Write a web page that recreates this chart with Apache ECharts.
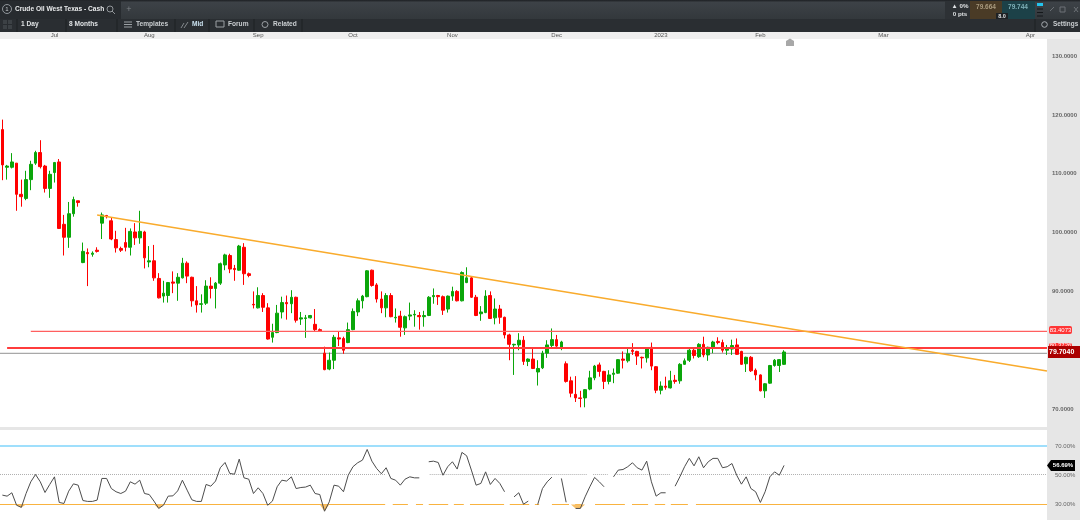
<!DOCTYPE html>
<html>
<head>
<meta charset="utf-8">
<style>html,body{margin:0;padding:0;background:#fff}#main{width:1080px;height:520px;filter:blur(0.35px)}</style>
</head>
<body>
<div id="main"></div>
<script src="https://cdn.jsdelivr.net/npm/echarts@6/dist/echarts.min.js"></script>
<script>
var slots = 221; // trading days on the time axis, candles fill the first 166
var monthNames = ['Jul','Aug','Sep','Oct','Nov','Dec','2023','Feb','Mar','Apr'];
var monthSlots = [11,31,54,74,95,117,139,160,186,217];

var opens = [117.5,111.1,111.1,111.8,106.5,105.8,109.0,111.8,113.6,111.3,
107.5,110.2,112.0,101.4,99.2,103.2,105.4,94.9,96.6,96.3,
97.0,101.6,102.9,102.0,98.8,97.3,98.3,97.5,100.1,99.1,
100.1,95.0,95.2,92.2,89.2,89.3,91.6,91.4,92.3,94.8,
92.4,88.4,87.8,88.0,90.9,90.5,91.4,94.5,96.1,93.9,
93.6,97.5,93.0,87.8,87.2,89.3,87.2,82.2,83.0,86.5,
88.1,87.9,89.0,85.3,85.4,85.5,84.4,83.5,79.5,76.8,
78.3,82.1,82.0,81.3,83.5,86.5,88.4,89.1,93.6,91.1,
88.7,87.2,89.3,85.5,85.8,83.8,85.8,86.0,85.9,85.7,
85.9,89.1,89.3,89.1,87.0,89.2,90.0,88.4,91.5,92.3,
89.0,86.2,86.4,89.3,85.5,87.0,85.6,82.6,80.9,80.9,
81.7,78.1,78.5,76.3,77.0,79.5,80.8,81.8,80.3,77.7,
74.8,72.5,71.9,71.9,73.4,75.3,77.5,76.4,74.7,75.9,
76.1,78.5,78.2,80.0,79.8,78.8,78.7,80.5,77.2,73.2,
73.9,73.6,74.9,74.8,77.6,78.3,80.0,78.9,81.0,79.2,
80.4,81.5,81.3,80.0,80.2,80.9,79.8,77.7,78.8,76.6,
75.8,73.1,74.4,77.4,77.4,77.6];
var closes = [111.5,111.3,112.0,106.5,106.1,109.0,111.6,113.6,111.2,107.5,
109.9,111.9,100.7,99.2,103.2,105.6,105.1,96.8,96.4,96.5,
96.8,103.0,102.7,98.9,97.4,97.0,97.5,100.2,99.1,100.2,
95.7,95.2,92.3,88.9,89.7,91.5,91.4,92.4,94.8,92.6,
88.4,87.7,87.9,90.9,90.5,91.4,94.7,96.2,93.8,93.7,
97.7,93.0,92.7,87.7,89.3,87.3,81.9,83.0,86.3,88.1,
87.9,89.0,85.1,85.5,85.5,85.9,83.5,83.3,76.7,78.3,
82.2,81.9,80.0,83.5,86.6,88.4,89.2,93.5,91.0,88.7,
87.2,89.3,85.7,85.6,83.9,85.7,86.0,86.1,85.7,85.9,
89.0,89.3,89.1,86.8,89.2,90.0,88.4,93.2,92.3,89.0,
85.9,86.5,89.2,85.4,87.0,85.6,82.6,81.0,81.0,81.7,
78.1,78.5,76.9,76.9,79.5,80.9,81.8,80.7,81.4,74.7,
72.7,71.9,71.8,73.3,75.3,77.3,76.4,74.7,75.8,76.1,
78.4,78.3,79.4,79.8,79.0,78.7,80.3,77.3,73.2,73.9,
73.7,74.8,74.7,77.6,78.2,80.0,79.1,81.0,79.2,80.5,
81.4,81.3,80.0,80.3,80.8,79.3,77.6,78.8,76.5,75.8,
73.1,74.3,77.4,78.3,78.4,79.7];
var lows = [108.9,109.0,110.9,103.7,104.4,105.5,107.2,111.5,110.9,106.8,
105.9,108.5,100.6,96.1,97.4,102.7,104.4,94.8,90.9,95.9,
96.6,98.9,102.4,98.7,96.6,96.7,96.8,96.1,97.9,98.1,
93.9,94.1,91.8,88.8,88.1,88.1,89.7,88.4,92.2,91.4,
87.4,86.4,86.4,87.7,88.8,87.1,91.1,93.6,93.1,91.8,
93.5,91.1,92.4,87.1,87.1,86.5,81.8,81.3,82.9,85.4,
85.2,86.3,84.7,84.3,82.1,85.4,83.2,83.1,76.6,76.6,
76.8,80.7,79.4,81.2,83.4,85.8,87.1,89.0,90.8,88.1,
86.3,85.6,85.6,84.7,82.3,82.6,85.1,84.0,83.5,84.0,
85.8,87.9,87.7,86.0,86.4,88.4,88.3,88.3,91.4,88.9,
85.8,85.0,86.3,85.3,84.4,84.5,82.0,78.3,75.8,80.0,
77.5,77.3,76.8,74.0,76.8,78.7,80.5,80.2,80.0,74.5,
72.0,71.2,70.3,70.3,73.2,74.9,75.5,73.4,74.2,74.4,
76.0,76.9,77.9,79.2,77.5,76.9,77.9,76.6,72.7,72.5,
73.3,73.5,74.3,74.3,77.5,78.0,78.6,78.7,78.8,78.2,
79.5,81.0,79.6,79.2,79.2,79.2,77.5,76.3,76.3,74.9,
73.0,71.9,74.3,77.2,76.3,77.5];
var highs = [119.2,111.5,113.5,111.8,109.0,110.5,112.2,113.9,115.7,111.5,
110.5,112.0,112.5,103.0,105.2,106.1,105.4,98.3,97.3,96.8,
97.5,103.4,103.0,102.6,100.3,97.6,100.8,100.7,101.6,103.7,
100.3,97.7,97.9,93.1,91.8,91.6,93.4,93.1,95.7,95.1,
92.5,90.9,89.5,91.9,92.4,91.6,94.9,96.4,96.4,94.5,
97.9,98.2,93.2,90.0,90.7,89.7,88.0,84.5,87.7,89.1,
89.3,90.2,89.1,86.5,86.0,86.0,87.0,83.7,80.6,79.6,
82.6,83.2,82.3,84.7,87.1,88.8,89.4,93.6,93.7,91.4,
90.0,89.7,89.7,87.1,86.7,85.9,88.1,86.8,86.5,86.7,
89.2,90.5,89.4,89.3,89.3,90.8,90.2,93.4,94.1,92.5,
89.4,87.5,90.2,90.0,88.8,87.7,85.7,82.8,81.1,82.9,
82.4,78.6,80.3,78.3,79.9,81.7,83.7,82.6,81.6,78.1,
75.5,75.6,73.1,73.4,76.5,77.5,77.9,76.5,76.6,76.9,
78.5,79.8,80.3,81.2,79.9,78.9,80.4,81.3,77.3,74.7,
75.5,76.5,75.8,77.8,78.6,80.2,80.3,81.2,82.3,80.6,
81.6,82.2,81.8,80.9,81.8,82.0,79.9,78.9,79.0,76.9,
75.9,74.4,77.5,78.5,78.5,80.0];

// rsi, null where the line breaks in the picture
var rsi = [36.4,35.7,38.0,29.5,28.0,37.5,45.5,50.5,45.5,38.2,
43.7,48.9,31.4,30.7,39.1,44.1,43.2,32.7,32.1,32.1,
33.0,47.8,47.8,40.9,38.7,37.5,39.1,45.5,43.9,46.6,
37.5,36.8,32.3,27.3,29.5,35.7,35.9,39.3,46.6,39.8,
33.2,32.1,32.1,43.7,42.5,46.0,55.1,58.7,51.2,50.7,
61.0,48.2,47.3,37.5,41.4,37.5,29.5,32.3,42.1,46.6,
46.0,48.9,40.9,41.6,41.9,43.2,37.5,36.8,25.4,31.8,
43.2,42.5,38.7,50.0,55.8,58.5,60.3,67.6,59.6,54.6,
51.0,55.1,47.8,46.6,43.2,47.3,48.9,48.2,48.2,null,
59.2,59.6,58.7,50.0,55.8,59.2,54.2,65.6,63.3,53.5,
43.2,44.4,52.3,43.7,47.8,44.4,38.7,null,35.2,38.0,
30.2,32.3,null,30.0,40.9,45.5,48.7,null,47.8,31.5,
null,27.3,27.3,35.2,42.1,48.5,45.5,42.1,null,48.9,
53.5,53.9,55.8,58.5,55.1,53.5,59.6,45.5,35.7,38.0,
38.0,null,42.5,48.9,55.8,61.5,56.4,62.6,55.1,59.2,
61.5,61.5,55.1,55.8,58.0,50.0,43.9,48.9,40.9,38.7,
31.4,38.7,48.9,52.3,50.0,56.7];

var priceTicks = [130,120,110,100,90,70];
var rsiTicks = [70,50,30];
var trendFrom = [20, 103.0];
var trendTo = [220.5, 76.45];
var resistLevel = 83.2, resistFrom = 6;
var supportLevel = 80.37, supportFrom = 1;
var lastLevel = 79.47;
// drawn stretches of the rsi guide lines, in day slots
var floorRuns = [[-0.5,80.8],[82.4,85.6],[87.3,88.8],[90.0,94.1],[95.3,97.4],[98.7,105.9],[107.1,111.2],[112.4,113.3],[116.0,119.6],[120.9,122.3],[125.1,131.4],[132.9,136.3],[137.7,139.9],[141.1,144.7],[146.4,220.5]];
var midRuns = [[-0.5,81],[90.2,123.4],[124.7,127.8],[129.7,140.9],[142.4,220.5]];

var slotNames = [];
for (var i = 0; i < slots; i++) slotNames.push(String(i));

var candles = opens.map(function (o, i) { return [o, closes[i], lows[i], highs[i]]; });

function runsToLine(runs, level) {
	var out = [];
	runs.forEach(function (r) {
		out.push([r[0], level], [r[1], level], [r[1], null]);
	});
	return out;
}

// orange wedge where the rsi drops under 30
var dips = rsi.map(function (v, i) {
	if (v !== null && v < 30) return v;
	if ((rsi[i - 1] !== null && rsi[i - 1] < 30 && i > 0) || (rsi[i + 1] !== null && rsi[i + 1] < 30)) return 30;
	return null;
});

var font = '"Liberation Sans", Arial, sans-serif';
function txt(x, y, s, color, size, weight, align) {
	return { type: 'text', x: x, y: y, z: 40, silent: true, style: { text: s, fill: color, font: (weight || 'bold') + ' ' + size + 'px ' + font, textAlign: align || 'left', textVerticalAlign: 'middle' } };
}
function box(x, y, w, h, fill, z, r) {
	return { type: 'rect', z: z || 1, silent: true, shape: { x: x, y: y, width: w, height: h, r: r || 0 }, style: { fill: fill } };
}
function vline(x, y0, y1, c) {
	return { type: 'line', z: 10, silent: true, shape: { x1: x, y1: y0, x2: x, y2: y1 }, style: { stroke: c, lineWidth: 1 } };
}
function ln(x1, y1, x2, y2, c, w) {
	return { type: 'line', z: 15, silent: true, shape: { x1: x1, y1: y1, x2: x2, y2: y2 }, style: { stroke: c, lineWidth: w || 1 } };
}

var chrome = [
	// header bars
	box(0, 0, 1080, 19, new echarts.graphic.LinearGradient(0, 0, 0, 1, [{ offset: 0, color: '#1c1f22' }, { offset: 0.12, color: '#3d4247' }, { offset: 1, color: '#33383c' }])),
	box(0, 1, 121, 18, '#272b2f', 2),
	box(0, 19, 1080, 13, '#2a2e32'),
	box(0, 32, 1080, 7, '#efefef'),
	box(1047, 39, 33, 481, '#e6e6e6'),
	box(0, 427, 1080, 3, '#e6e6e6', 30),
	// tab
	{ type: 'circle', z: 20, silent: true, shape: { cx: 7, cy: 9, r: 4.5 }, style: { fill: 'none', stroke: '#aab0b5', lineWidth: 0.8 } },
	txt(7, 9.5, '1', '#c4c8cb', 6, 'normal', 'center'),
	txt(15, 9.5, 'Crude Oil West Texas - Cash', '#e8eaeb', 6.6),
	{ type: 'circle', z: 20, silent: true, shape: { cx: 110, cy: 9, r: 3 }, style: { fill: 'none', stroke: '#a8adb1', lineWidth: 0.8 } },
	ln(112, 11, 115, 14, '#a8adb1', 0.8),
	txt(129, 9.5, '+', '#7c8186', 9, 'normal', 'center'),
	// toolbar
	box(3, 20, 9, 9, '#3c4145', 12),
	ln(7.5, 20, 7.5, 29, '#272b2f'), ln(3, 24.5, 12, 24.5, '#272b2f'),
	vline(17, 19, 32, '#1d2023'), vline(66, 19, 32, '#1d2023'), vline(117, 19, 32, '#1d2023'),
	vline(175, 19, 32, '#1d2023'), vline(209, 19, 32, '#1d2023'), vline(254, 19, 32, '#1d2023'), vline(302, 19, 32, '#1d2023'),
	txt(21, 24.5, '1 Day', '#dfe2e4', 6.6),
	txt(69, 24.5, '8 Months', '#dfe2e4', 6.6),
	ln(124, 22, 132, 22, '#9ba0a4'), ln(124, 24.5, 132, 24.5, '#9ba0a4'), ln(124, 27, 132, 27, '#9ba0a4'),
	txt(136, 24.5, 'Templates', '#c9cdd0', 6.6),
	ln(181, 28, 184, 23, '#84898d'), ln(184, 28, 188, 22, '#84898d'),
	txt(192, 24.5, 'Mid', '#c9e0ee', 6.6),
	ln(216, 21, 224, 21, '#9ba0a4'), ln(216, 27, 224, 27, '#9ba0a4'), ln(216, 21, 216, 27, '#9ba0a4'), ln(224, 21, 224, 27, '#9ba0a4'),
	txt(228, 24.5, 'Forum', '#c9cdd0', 6.6),
	{ type: 'circle', z: 20, silent: true, shape: { cx: 265, cy: 24.5, r: 3 }, style: { fill: 'none', stroke: '#9ba0a4', lineWidth: 1 } },
	txt(273, 24.5, 'Related', '#c9cdd0', 6.6),
	// quote block, top right
	box(945, 1, 25, 18, '#2d3135', 5),
	txt(960, 6, '▲ 0%', '#dfe2e4', 6.2, 'bold', 'center'),
	txt(960, 14, '0 pts', '#dfe2e4', 6.2, 'bold', 'center'),
	box(970, 1, 32, 18, '#4a3b26', 5),
	txt(986, 7.5, '79.664', '#a99a7e', 6.5, 'bold', 'center'),
	box(1002, 1, 33, 18, '#1c4148', 5),
	txt(1018, 7.5, '79.744', '#7fb0b8', 6.5, 'bold', 'center'),
	box(996, 13, 12, 6, '#1e2124', 6),
	txt(1002, 16, '8.0', '#dfe2e4', 5.5, 'bold', 'center'),
	box(1037, 3, 6, 3, '#23c4ee', 6),
	box(1037, 8.5, 6, 1, '#14171a', 6), box(1037, 12, 6, 1, '#14171a', 6), box(1037, 15.5, 6, 1, '#14171a', 6),
	ln(1050, 11, 1054, 7, '#6c7176'),
	{ type: 'rect', z: 15, silent: true, shape: { x: 1060, y: 7, width: 5, height: 5 }, style: { fill: 'none', stroke: '#6c7176' } },
	ln(1074, 7, 1078, 12, '#6c7176'), ln(1078, 7, 1074, 12, '#6c7176'),
	vline(1035, 19, 32, '#1d2023'),
	{ type: 'circle', z: 20, silent: true, shape: { cx: 1044.5, cy: 24.5, r: 2.8 }, style: { fill: 'none', stroke: '#a8adb1', lineWidth: 1 } },
	txt(1053, 24.5, 'Settings', '#c9cdd0', 6.4),
	// marker on the time band
	{ type: 'polygon', z: 25, silent: true, shape: { points: [[786, 41], [790, 38.5], [794, 41], [794, 46], [786, 46]] }, style: { fill: '#a8a8a8' } },
	// price tags
	box(1049, 326, 23, 8, '#ff3636', 30, 2),
	txt(1060.5, 330.3, '83.4073', '#ffffff', 6, 'normal', 'center'),
	box(1049, 343, 23, 8, '#ff3636', 30, 2),
	txt(1060.5, 345, '80.3726', '#ffffff', 6, 'normal', 'center'),
	box(1048, 346, 32, 12, '#ab0000', 41),
	{ type: 'text', x: 1049, y: 352.2, z: 42, silent: true, style: { text: '79.7040', fill: '#ffffff', font: 'bold 7px ' + font, textVerticalAlign: 'middle' } },
	{ type: 'polygon', z: 41, silent: true, shape: { points: [[1047, 465.5], [1051, 460], [1075, 460], [1075, 471], [1051, 471]] }, style: { fill: '#000000' } },
	{ type: 'text', x: 1063, y: 465.7, z: 42, silent: true, style: { text: '56.69%', fill: '#ffffff', font: 'bold 6px ' + font, textAlign: 'center', textVerticalAlign: 'middle' } }
];

var hiddenX = { show: false };
var myChart = echarts.init(document.getElementById('main'), null, { renderer: 'canvas' });

myChart.setOption({
	animation: false,
	backgroundColor: '#ffffff',
	graphic: { elements: chrome },
	grid: [
		{ left: 0, width: 1047, top: 39, height: 389 },
		{ left: 0, width: 1047, top: 430, height: 90 }
	],
	xAxis: [
		{
			type: 'category', gridIndex: 0, position: 'top', data: slotNames, z: 5,
			axisLine: hiddenX, axisTick: hiddenX, splitLine: hiddenX,
			axisLabel: {
				margin: 1, fontSize: 6, color: '#555', fontFamily: font, showMinLabel: true, showMaxLabel: true, hideOverlap: false,
				interval: function (idx) { return monthSlots.indexOf(idx) >= 0; },
				formatter: function (v) { return monthNames[monthSlots.indexOf(Number(v))]; }
			}
		},
		{ type: 'value', gridIndex: 0, min: -0.5, max: slots - 0.5, show: false, splitLine: hiddenX },
		{ type: 'category', gridIndex: 1, data: slotNames, show: false },
		{ type: 'value', gridIndex: 1, min: -0.5, max: slots - 0.5, show: false, splitLine: hiddenX }
	],
	yAxis: [
		{
			type: 'value', gridIndex: 0, position: 'right', min: 66.78, max: 132.9, z: 5, scale: true,
			axisLine: hiddenX, axisTick: hiddenX, splitLine: hiddenX,
			axisLabel: {
				customValues: priceTicks, margin: 5, fontSize: 6, fontWeight: 'bold', color: '#666', fontFamily: font,
				formatter: function (v) { return v.toFixed(4); }
			}
		},
		{
			type: 'value', gridIndex: 1, position: 'right', min: 19.4, max: 80.9, z: 5, scale: true,
			axisLine: hiddenX, axisTick: hiddenX, splitLine: hiddenX,
			axisLabel: {
				customValues: rsiTicks, margin: 8, fontSize: 6, color: '#666', fontFamily: font,
				formatter: function (v) { return v.toFixed(2) + '%'; }
			}
		}
	],
	series: [
		{
			type: 'line', xAxisIndex: 1, yAxisIndex: 0, showSymbol: false, silent: true, z: 2,
			data: [[-0.5, lastLevel], [slots - 0.5, lastLevel]],
			lineStyle: { color: '#a8a8a8', width: 1.2 }
		},
		{
			type: 'candlestick', xAxisIndex: 0, yAxisIndex: 0, data: candles, barWidth: 3.2, z: 3, silent: true,
			itemStyle: { color: '#0aa60a', color0: '#ff0000', borderColor: '#0aa60a', borderColor0: '#ff0000', borderWidth: 1 }
		},
		{
			type: 'line', xAxisIndex: 1, yAxisIndex: 0, showSymbol: false, silent: true, z: 4,
			data: [[resistFrom, resistLevel], [slots - 0.5, resistLevel]],
			lineStyle: { color: '#ff5f5f', width: 1.2 }
		},
		{
			type: 'line', xAxisIndex: 1, yAxisIndex: 0, showSymbol: false, silent: true, z: 4,
			data: [[supportFrom, supportLevel], [slots - 0.5, supportLevel]],
			lineStyle: { color: '#ff3c3c', width: 2 }
		},
		{
			type: 'line', xAxisIndex: 1, yAxisIndex: 0, showSymbol: false, silent: true, z: 5,
			data: [trendFrom, trendTo],
			lineStyle: { color: '#f9ab2c', width: 1.5 }
		},
		{
			type: 'line', xAxisIndex: 3, yAxisIndex: 1, showSymbol: false, silent: true, z: 2,
			data: [[-0.5, 70], [slots - 0.5, 70]],
			lineStyle: { color: '#7fd4fb', width: 1.5 }
		},
		{
			type: 'line', xAxisIndex: 3, yAxisIndex: 1, showSymbol: false, silent: true, z: 2,
			data: runsToLine(midRuns, 50.5),
			lineStyle: { color: '#b0b0b0', width: 1, type: [1, 1] }
		},
		{
			type: 'line', xAxisIndex: 3, yAxisIndex: 1, showSymbol: false, silent: true, z: 2,
			data: runsToLine(floorRuns, 30),
			lineStyle: { color: '#f9b340', width: 1.2 }
		},
		{
			type: 'line', xAxisIndex: 2, yAxisIndex: 1, showSymbol: false, silent: true, z: 3,
			data: dips, lineStyle: { width: 0 },
			areaStyle: { color: '#f9c067', origin: 30, opacity: 1 }
		},
		{
			type: 'line', xAxisIndex: 2, yAxisIndex: 1, showSymbol: false, silent: true, z: 4,
			data: rsi, connectNulls: false,
			lineStyle: { color: '#4d4d4d', width: 1 }
		}
	]
});
</script>
</body>
</html>
